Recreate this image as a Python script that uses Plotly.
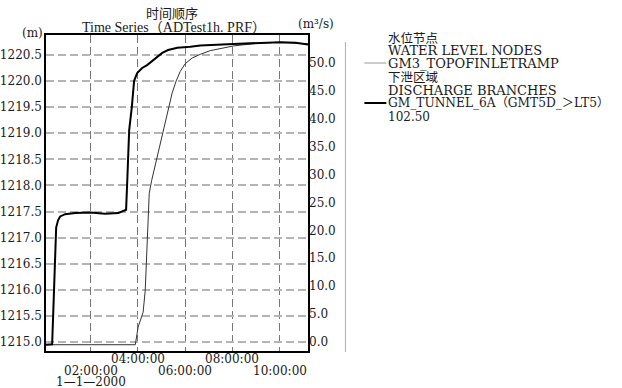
import plotly.graph_objects as go

# ---- data (hours after 00:00 on 1-1-2000) ----
discharge_hours = [0.11, 0.35, 0.37, 0.45, 0.54, 0.62, 0.71, 0.92, 1.34, 1.98, 2.61, 3.17, 3.50,
                   3.55, 3.63, 3.74, 3.84, 3.97, 4.18, 4.39, 4.61, 4.82, 5.03, 5.28, 5.67, 6.22,
                   6.64, 8.04, 9.18, 10.03, 10.67, 11.22]
discharge_m3s = [-0.5, -0.5, -0.4, 9.3, 20.5, 21.8, 22.5, 22.9, 23.1, 23.2, 23.0, 23.1, 23.7,
                 28.9, 37.9, 42.0, 46.8, 48.2, 49.1, 49.6, 50.4, 51.1, 51.8, 52.3, 52.7, 52.9,
                 53.1, 53.4, 53.6, 53.7, 53.6, 53.3]

level_hours = [0.11, 3.89, 4.01, 4.14, 4.22, 4.31, 4.37, 4.42, 4.48, 4.58, 4.73, 4.86, 5.03,
               5.16, 5.28, 5.45, 5.62, 5.79, 6.00, 6.30, 6.64, 7.06, 8.04, 9.18, 10.03, 11.22]
level_m = [1214.95, 1214.95, 1215.29, 1215.46, 1215.57, 1215.99, 1216.76, 1217.33, 1217.85,
           1218.09, 1218.38, 1218.67, 1218.95, 1219.20, 1219.47, 1219.77, 1220.00, 1220.18,
           1220.33, 1220.44, 1220.51, 1220.58, 1220.67, 1220.73, 1220.74, 1220.71]

left_ticks = [1215.0, 1215.5, 1216.0, 1216.5, 1217.0, 1217.5, 1218.0, 1218.5, 1219.0,
              1219.5, 1220.0, 1220.5]
right_ticks = [0, 5, 10, 15, 20, 25, 30, 35, 40, 45, 50]
x_tick_hours = [2, 4, 6, 8, 10]
x_tick_labels = ["02:00:00", "04:00:00", "06:00:00", "08:00:00", "10:00:00"]
date_label = "1—1—2000"

SERIF = "DejaVu Serif, Noto Sans CJK SC, serif"
TITLE = "Liberation Serif, Noto Sans CJK SC, serif"
CJK = "Noto Sans CJK SC, sans-serif"
TXT = "#1a1a1a"

X_RANGE = [0.11, 11.2]

# plot area in pixels
L, R, T, B = 46, 308.5, 35, 351
W, H = 622, 388


def px(x, y):
    return (x - L) / (R - L), (B - y) / (B - T)


def hour_to_paper(h):
    return (h - X_RANGE[0]) / (X_RANGE[1] - X_RANGE[0])


fig = go.Figure()
fig.add_trace(go.Scatter(x=level_hours, y=level_m, mode="lines",
                         line=dict(color="#333333", width=1), yaxis="y",
                         name="GM3_TOPOFINLETRAMP", showlegend=False, hoverinfo="skip"))
fig.add_trace(go.Scatter(x=discharge_hours, y=discharge_m3s, mode="lines",
                         line=dict(color="#000000", width=2), yaxis="y2",
                         name="GM_TUNNEL_6A", showlegend=False, hoverinfo="skip"))

ann = []
# x tick labels (staggered)
for i, (h, lab) in enumerate(zip(x_tick_hours, x_tick_labels)):
    yy = 359 if i % 2 == 1 else 370.5
    ann.append(dict(x=hour_to_paper(h), xref="paper", y=px(0, yy)[1], yref="paper", text=lab,
                    showarrow=False, xanchor="center", yanchor="middle",
                    font=dict(family=SERIF, size=12, color=TXT)))
ann.append(dict(x=hour_to_paper(x_tick_hours[0]), xref="paper", y=px(0, 381.5)[1], yref="paper",
                text=date_label, showarrow=False, xanchor="center", yanchor="middle",
                font=dict(family=SERIF, size=12, color=TXT)))

def text_at(x, y, s, anchor="left", font=SERIF, size=12):
    p = px(x, y)
    ann.append(dict(x=p[0], y=p[1], xref="paper", yref="paper", text=s, showarrow=False,
                    xanchor=anchor, yanchor="middle", font=dict(family=font, size=size, color=TXT)))

text_at(172, 12, "时间顺序", "center", CJK, 13)
text_at(174, 27, "Time Series（ADTest1h. PRF）", "center", TITLE, 14)
text_at(45, 33, "(m)", "right", SERIF, 12)
text_at(317, 24, "(m³/s)", "center", SERIF, 12)

legend_lines = [
    (37, "水位节点", CJK, 12.5),
    (50, "WATER LEVEL NODES", SERIF, 13),
    (63, "GM3_TOPOFINLETRAMP", SERIF, 13),
    (76, "下泄区域", CJK, 12.5),
    (90, "DISCHARGE BRANCHES", SERIF, 13),
    (103, "GM_TUNNEL_6A（GMT5D_＞LT5）", SERIF, 12.2),
    (117, "102.50", SERIF, 12),
]
for y, s, f, sz in legend_lines:
    text_at(387, y, s, "left", f, sz)

shapes = []
def seg(x0, y0, x1, y1, color, width):
    a = px(x0, y0); b = px(x1, y1)
    shapes.append(dict(type="line", xref="paper", yref="paper", x0=a[0], y0=a[1],
                       x1=b[0], y1=b[1], line=dict(color=color, width=width)))

seg(346, 42, 346, 352, "#b0b0b0", 1)
seg(365, 63, 387, 63, "#aaaaaa", 1.2)
seg(365, 103, 387, 103, "#000000", 2)

fig.update_layout(
    width=W, height=H,
    margin=dict(l=L, r=W - R, t=T, b=H - B, autoexpand=False),
    paper_bgcolor="white", plot_bgcolor="white",
    showlegend=False,
    xaxis=dict(range=X_RANGE, tickvals=x_tick_hours, showticklabels=False,
               showgrid=True, gridcolor="#777777", gridwidth=1, griddash="8px,4px",
               zeroline=False, showline=True, linecolor="black", linewidth=1.5, mirror=True,
               ticks="", automargin=False),
    yaxis=dict(range=[1214.83, 1220.88], tickvals=left_ticks,
               ticktext=[f"{v:.1f}" for v in left_ticks],
               showgrid=True, gridcolor="#b4b4b4", gridwidth=1.5, griddash="8px,4px",
               zeroline=False, showline=True, linecolor="black", linewidth=1.5, mirror=True,
               ticks="", automargin=False, ticklabelstandoff=0,
               tickfont=dict(family=SERIF, size=12, color=TXT)),
    yaxis2=dict(range=[-1.61, 55.0], tickvals=right_ticks,
                ticktext=[f"{v:.1f}" for v in right_ticks],
                overlaying="y", side="right", showgrid=False, zeroline=False,
                showline=False, ticks="", ticklabelstandoff=0, automargin=False,
                tickfont=dict(family=SERIF, size=12, color=TXT)),
    annotations=ann,
    shapes=shapes,
)

fig.write_html("out.html", config={"displayModeBar": False},
               post_script="document.body.style.margin='0';document.body.style.padding='0';")
